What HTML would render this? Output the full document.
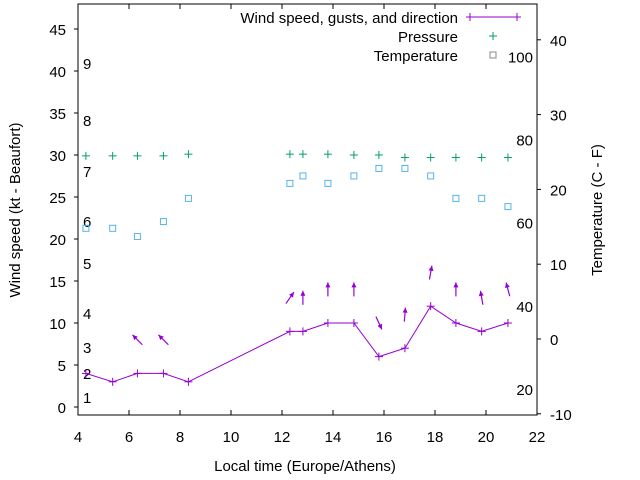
<!DOCTYPE html>
<html><head><meta charset="utf-8"><style>
html,body{margin:0;padding:0;background:#fff}
svg{display:block;font-family:"Liberation Sans",sans-serif}
</style></head><body>
<svg id="chart" width="640" height="480" viewBox="0 0 640 480"></svg>
<script>
const hours=[4.31,5.36,6.33,7.35,8.33,12.31,12.82,13.8,14.82,15.8,16.82,17.83,18.82,19.83,20.86];
const wind=[4,3,4,4,3,9,9,10,10,6,7,12,10,9,10];
const arrowHours=[6.33,7.35,12.31,12.82,13.8,14.82,15.8,16.82,17.83,18.82,19.83,20.86];
const gusts=[8,8,13,13,14,14,10,11,16,14,13,14];
const dirs=[-45,-45,35,0,0,0,155,5,10,0,-10,-15];
const pressure=[29.9,29.9,29.9,29.9,30.1,30.1,30.1,30.1,30.0,30.0,29.7,29.7,29.7,29.7,29.7];
const temps=[14.8,14.8,13.7,15.7,18.8,20.8,21.8,20.8,21.8,22.8,22.8,21.8,18.8,18.8,17.7];
const xTicks=[4,6,8,10,12,14,16,18,20,22];
const yTicks=[0,5,10,15,20,25,30,35,40,45];
const y2Ticks=[-10,0,10,20,30,40];
const beaufort=[[1,397],[2,373],[3,347],[4,313],[5,263],[6,221],[7,171],[8,120],[9,63]];
const fahr=[20,40,60,80,100];

const L=78,R=537,T=4,B=415;
const X=h=>L+(h-4)*(R-L)/18;
const Y=v=>407-v*8.4;
const Y2=c=>339-c*7.48;
const svg=document.getElementById('chart');
const NS='http://www.w3.org/2000/svg';
function mk(tag,attrs,parent){const e=document.createElementNS(NS,tag);for(const k in attrs)e.setAttribute(k,attrs[k]);(parent||svg).appendChild(e);return e;}
function txt(s,x,y,anchor,size,parent){const t=mk('text',{x:x,y:y,'text-anchor':anchor||'start','font-size':size||16,fill:'#000'},parent);t.textContent=s;return t;}

const frame=mk('rect',{x:L,y:T,width:R-L,height:B-T,fill:'none',stroke:'#000','stroke-width':1});



const xa=mk('g',{});


xTicks.forEach(v=>{const x=X(v);mk('line',{x1:x,x2:x,y1:B,y2:B-5,stroke:'#000'},xa);mk('line',{x1:x,x2:x,y1:T,y2:T+5,stroke:'#000'},xa);txt(v,x,442,'middle',15,xa);});
const ya=mk('g',{});


yTicks.forEach(v=>{const y=Y(v);mk('line',{x1:L-4,x2:L,y1:y,y2:y,stroke:'#000'},ya);txt(v,66,y+6,'end',15,ya);});
const y2a=mk('g',{});


y2Ticks.forEach(v=>{const y=Y2(v);mk('line',{x1:R,x2:R+4,y1:y,y2:y,stroke:'#000'},y2a);txt(v,550,y+6,'start',15,y2a);});

const bl=mk('g',{});


beaufort.forEach(b=>txt(b[0],83,b[1]+6,'start',15,bl));
const fl=mk('g',{});


fahr.forEach(f=>txt(f,533,Y2((f-32)/1.8)+6,'end',15,fl));

const t1=txt('Wind speed (kt - Beaufort)',0,0,'middle',15);
t1.setAttribute('transform','translate(20,210) rotate(-90)');


const t2=txt('Temperature (C - F)',0,0,'middle',15);
t2.setAttribute('transform','translate(602,210) rotate(-90)');


const t3=txt('Local time (Europe/Athens)',305,471,'middle',15);



const purple='#9400d3',green='#009e73',blue='#56b4e9',gray='#888';
const wl=mk('polyline',{points:hours.map((h,i)=>X(h)+','+Y(wind[i])).join(' '),fill:'none',stroke:purple,'stroke-width':1});


function plus(x,y,c,p){mk('line',{x1:x-4,x2:x+4,y1:y,y2:y,stroke:c},p);mk('line',{x1:x,x2:x,y1:y-4,y2:y+4,stroke:c},p);}
hours.forEach((h,i)=>{const g=mk('g',{});


plus(X(h),Y(wind[i]),purple,g);});

arrowHours.forEach((h,i)=>{const cx=X(h),cy=Y(gusts[i]);const a=dirs[i]*Math.PI/180;const dx=Math.sin(a)*7,dy=-Math.cos(a)*7;
const g=mk('g',{});


const hx=cx+dx,hy=cy+dy;mk('line',{x1:cx-dx,y1:cy-dy,x2:hx,y2:hy,stroke:purple,'stroke-width':1.2},g);
const ux=dx/7,uy=dy/7,px=-uy,py=ux;
mk('polygon',{points:`${hx},${hy} ${hx-ux*5+px*2.5},${hy-uy*5+py*2.5} ${hx-ux*5-px*2.5},${hy-uy*5-py*2.5}`,fill:purple},g);});

hours.forEach((h,i)=>{const g=mk('g',{});


plus(X(h),Y(pressure[i]),green,g);});
hours.forEach((h,i)=>{const r=mk('rect',{x:X(h)-3,y:Y2(temps[i])-3,width:6,height:6,fill:'none',stroke:blue,'stroke-width':1});

});

const lg=mk('g',{});


txt('Wind speed, gusts, and direction',458,23,'end',15,lg);
mk('line',{x1:470,x2:517,y1:17,y2:17,stroke:purple},lg);
plus(470,17,purple,lg);plus(517,17,purple,lg);
txt('Pressure',458,42,'end',15,lg);plus(493,36,green,lg);
txt('Temperature',458,61,'end',15,lg);mk('rect',{x:490,y:52,width:6,height:6,fill:'none',stroke:gray},lg);
</script>
</body></html>
